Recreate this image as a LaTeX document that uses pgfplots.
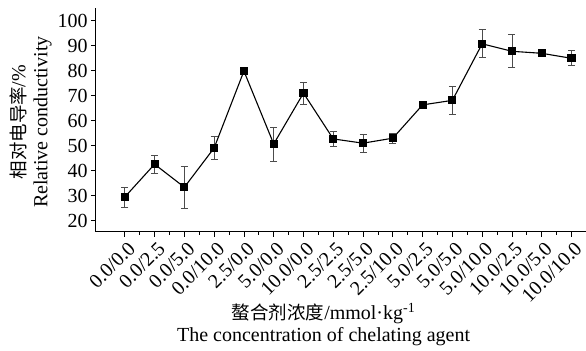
\documentclass[border=0pt]{standalone}
\usepackage{fontspec}
\setmainfont{Liberation Serif}
\newfontfamily\cjk{Noto Sans CJK SC}
\usepackage{pgfplots}
\pgfplotsset{compat=1.18}
\begin{document}
\fontsize{20}{22}\selectfont
\begin{tikzpicture}
\begin{axis}[
  scale only axis, width=490pt, height=224pt,
  xmin=-0.97, xmax=15.47, ymin=15.6, ymax=105,
  axis x line*=bottom, axis y line*=left,
  axis line style={line width=1pt},
  font=\fontsize{20}{22}\selectfont,
  /pgf/number format/assume math mode=true,
  ytick={20,30,...,100},
  xtick={0,...,15},
  minor x tick num=1,
  xticklabels={0.0/0.0,0.0/2.5,0.0/5.0,0.0/10.0,2.5/0.0,5.0/0.0,10.0/0.0,2.5/2.5,2.5/5.0,2.5/10.0,5.0/2.5,5.0/5.0,5.0/10.0,10.0/2.5,10.0/5.0,10.0/10.0},
  xticklabel style={rotate=45, anchor=north east, inner sep=0pt, xshift=-1pt, yshift=-4pt},
  yticklabel style={inner sep=1pt, xshift=-2pt},
  tick align=outside,
  major tick length=5pt, minor tick length=3pt,
  tick style={line width=0.8pt, black},
  ylabel={{\cjk\fontsize{18.5}{25}\selectfont 相对电导率}/\%\\Relative conductivity},
  ylabel style={align=center, at={(axis description cs:-0.0898,0.49)}, anchor=south, inner sep=0pt},
  xlabel={{\cjk\fontsize{18.5}{25}\selectfont 螯合剂浓度}/mmol·kg\textsuperscript{-1}\\[0pt]The concentration of chelating agent},
  xlabel style={align=center, at={(axis description cs:0.465,0)}, anchor=north, yshift=-71pt, inner sep=0pt},
]
\coordinate (sw) at (rel axis cs:0,0);
\addplot[black, line width=1.1pt, mark=square*, mark size=3.5pt,
  error bars/.cd, y dir=both, y explicit,
  error bar style={gray!60!black, line width=0.7pt},
  error mark options={rotate=90, mark size=3.5pt, gray!60!black, line width=0.7pt}]
  table[x=x, y=y, y error=e] {
x y e
0 29.5 4.0
1 42.6 3.5
2 33.4 8.3
3 49.1 4.5
4 79.8 0
5 50.7 6.8
6 71.0 4.4
7 52.7 2.9
8 51.0 3.5
9 53.0 2.1
10 66.3 0
11 68.1 5.6
12 90.7 5.6
13 87.7 6.6
14 86.9 0
15 84.9 3.0
};
\end{axis}
\path (sw) ++(-96pt,-119pt) rectangle ++(586pt,351pt);
\end{tikzpicture}
\end{document}
